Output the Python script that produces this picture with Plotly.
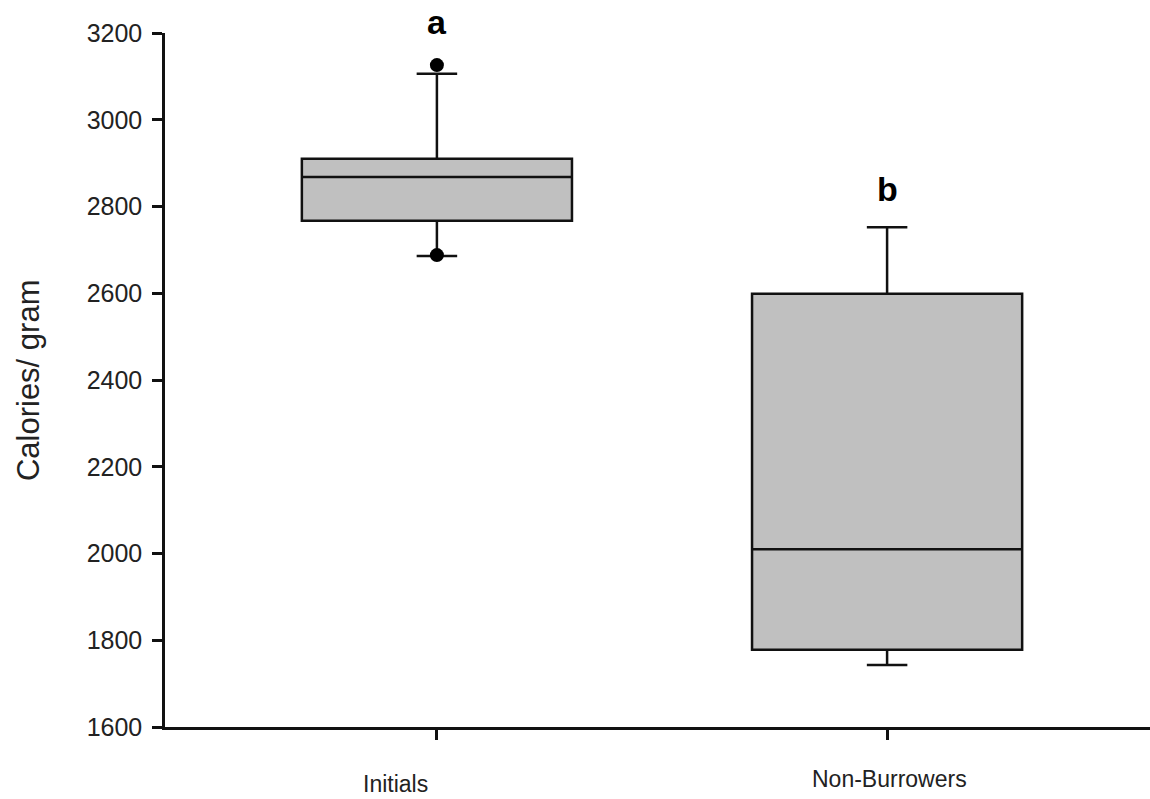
import plotly.graph_objects as go

categories = ["Initials", "Non-Burrowers"]
q1 = [2767, 1778]
median = [2868, 2010]
q3 = [2910, 2599]
lower_whisker = [2686, 1743]
upper_whisker = [3106, 2752]
outlier_cat = ["Initials", "Initials"]
outlier_vals = [3126, 2688]
letters = ["a", "b"]
letter_y = [3225, 2840]
y_ticks = [1600, 1800, 2000, 2200, 2400, 2600, 2800, 3000, 3200]

pos = {c: i for i, c in enumerate(categories)}
xs = [pos[c] for c in categories]
ymin, ymax = 1600, 3200

fig = go.Figure()
fig.add_trace(go.Box(
    x=xs, q1=q1, median=median, q3=q3,
    lowerfence=lower_whisker, upperfence=upper_whisker,
    width=0.6, whiskerwidth=0.15,
    fillcolor="#c0c0c0", line=dict(color="#111111", width=2.5),
    boxpoints=False, showlegend=False, hoverinfo="skip",
))
fig.add_trace(go.Scatter(
    x=[pos[c] for c in outlier_cat], y=outlier_vals, mode="markers",
    marker=dict(color="black", size=14, symbol="circle"),
    showlegend=False, cliponaxis=False,
))

annotations = []
for i, (l, ly) in enumerate(zip(letters, letter_y)):
    annotations.append(dict(x=xs[i], y=(ly - ymin) / (ymax - ymin), xref="x", yref="paper",
                            text="<b>%s</b>" % l,
                            showarrow=False, font=dict(family="Liberation Sans, Arial", size=34, color="black"),
                            xanchor="center", yanchor="middle"))

label_dx = [-41, 2]
label_y = [784, 779]
for i, c in enumerate(categories):
    annotations.append(dict(x=xs[i], y=0, xref="x", yref="paper", text=c,
                            showarrow=False, xshift=label_dx[i], yshift=-(label_y[i] - 727),
                            font=dict(family="Liberation Sans, Arial", size=23, color="#222"),
                            xanchor="center", yanchor="middle"))
annotations.append(dict(x=-0.139, y=0.5, xref="paper", yref="paper", text="Calories/ gram",
                        textangle=-90, showarrow=False,
                        font=dict(family="Liberation Sans, Arial", size=31, color="#222"),
                        xanchor="center", yanchor="middle"))

fig.update_layout(
    width=1150, height=799,
    margin=dict(l=165, r=0, t=33, b=72),
    paper_bgcolor="white", plot_bgcolor="white",
    annotations=annotations,
    xaxis=dict(range=[-0.604, 1.584], tickvals=xs, ticktext=["", ""],
               showline=True, linecolor="#111111", linewidth=2.5,
               ticks="outside", ticklen=10, tickwidth=2.5, tickcolor="#111111",
               showgrid=False, zeroline=False, fixedrange=True),
    yaxis=dict(range=[ymin, ymax], tickvals=y_ticks,
               showline=True, linecolor="#111111", linewidth=2.5,
               ticks="outside", ticklen=10, tickwidth=2.5, tickcolor="#111111",
               tickfont=dict(family="Liberation Sans, Arial", size=25, color="#222"),
               showgrid=False, zeroline=False, ticklabelstandoff=5),
)
fig.write_html("out.html")
